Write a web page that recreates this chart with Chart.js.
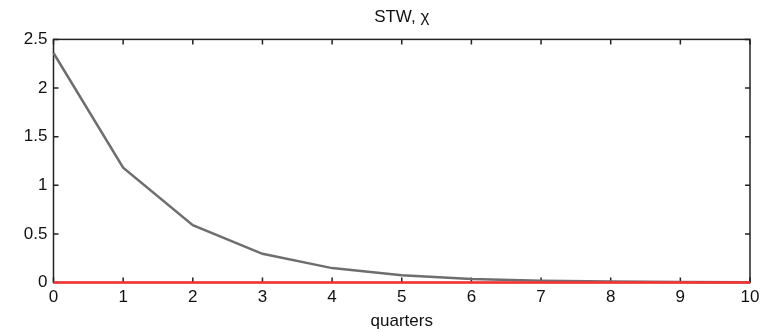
<!DOCTYPE html>
<html>
<head>
<meta charset="utf-8">
<script src="https://cdn.jsdelivr.net/npm/chart.js@4/dist/chart.umd.min.js"></script>
<style>
  html, body { margin: 0; padding: 0; background: #fff; }
  #wrap { width: 776px; height: 332px; }
</style>
</head>
<body>
<div id="wrap"><canvas id="c" width="776" height="332"></canvas></div>
<script>
// data
const quarters = [0, 1, 2, 3, 4, 5, 6, 7, 8, 9, 10];
const chiResponse = [2.36, 1.18, 0.59, 0.295, 0.148, 0.074, 0.037, 0.019, 0.009, 0.005, 0.002];
const zeroLine = [0, 0, 0, 0, 0, 0, 0, 0, 0, 0, 0];
const xTicks = [0, 1, 2, 3, 4, 5, 6, 7, 8, 9, 10];
const yTicks = [0, 0.5, 1, 1.5, 2, 2.5];

const FONT = 'Liberation Sans, Arial, Helvetica, sans-serif';

// matlab style box with inward ticks on all four sides
const boxPlugin = {
    id: 'box',
    beforeDatasetsDraw(chart) {
        const { ctx, chartArea: a, scales } = chart;
        const len = 5;
        ctx.save();
        ctx.strokeStyle = '#222';
        ctx.lineWidth = 1.5;
        ctx.strokeRect(a.left, a.top, a.right - a.left, a.bottom - a.top);
        ctx.beginPath();
        xTicks.forEach(v => {
            const x = scales.x.getPixelForValue(v);
            ctx.moveTo(x, a.bottom); ctx.lineTo(x, a.bottom - len);
            ctx.moveTo(x, a.top); ctx.lineTo(x, a.top + len);
        });
        yTicks.forEach(v => {
            const y = scales.y.getPixelForValue(v);
            ctx.moveTo(a.left, y); ctx.lineTo(a.left + len, y);
            ctx.moveTo(a.right, y); ctx.lineTo(a.right - len, y);
        });
        ctx.stroke();
        ctx.restore();
    }
};

new Chart(document.getElementById('c'), {
    type: 'line',
    data: {
        labels: quarters,
        datasets: [
            { data: quarters.map((q, i) => ({ x: q, y: zeroLine[i] })), borderColor: '#ff3030', borderWidth: 2.5, pointRadius: 0, tension: 0, clip: false },
            { data: quarters.map((q, i) => ({ x: q, y: chiResponse[i] })), borderColor: '#6e6e6e', borderWidth: 2.5, pointRadius: 0, tension: 0, clip: false }
        ]
    },
    options: {
        responsive: false,
        animation: false,
        layout: { padding: { top: 0, right: 26, bottom: 0, left: 0 } },
        plugins: {
            legend: { display: false },
            tooltip: { enabled: false },
            title: {
                display: true,
                text: 'STW, χ',
                fullSize: false,
                color: '#111',
                font: { family: FONT, size: 17, weight: 'normal' },
                padding: { top: 7, bottom: 12 }
            }
        },
        scales: {
            x: {
                type: 'linear',
                min: 0, max: 10,
                grid: { display: false, drawTicks: false },
                border: { display: false },
                afterBuildTicks: s => { s.ticks = xTicks.map(v => ({ value: v })); },
                afterFit: s => { s.height = 49.5; },
                ticks: { color: '#111', padding: 5, maxRotation: 0, font: { family: FONT, size: 17 } },
                title: {
                    display: true,
                    text: 'quarters',
                    color: '#111',
                    padding: { top: 0, bottom: 0 },
                    font: { family: FONT, size: 17 }
                }
            },
            y: {
                min: 0, max: 2.5,
                grid: { display: false, drawTicks: false },
                border: { display: false },
                afterBuildTicks: s => { s.ticks = yTicks.map(v => ({ value: v })); },
                afterFit: s => { s.width = 53.5; },
                ticks: { color: '#111', padding: 6, font: { family: FONT, size: 17 }, callback: v => String(v) }
            }
        }
    },
    plugins: [boxPlugin]
});
</script>
</body>
</html>
